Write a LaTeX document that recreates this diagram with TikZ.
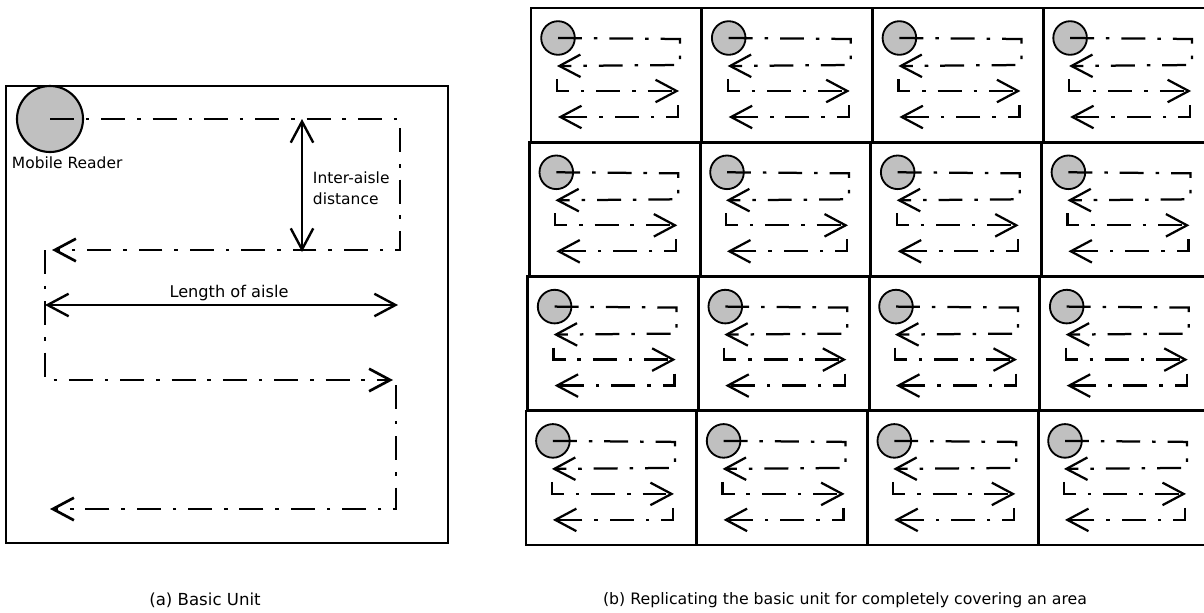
\documentclass[tikz,border=0pt]{standalone}
\usepackage{fontspec}
\setmainfont{DejaVu Sans}
\usetikzlibrary{arrows.meta}
\definecolor{readergray}{RGB}{192,192,192}

\begin{document}
\begin{tikzpicture}[
    x=0.025cm, y=-0.025cm,
    >={Straight Barb[length=15pt,width=16pt]},
    unit/.style={draw, line width=1.9pt},
    reader/.style={draw, circle, fill=readergray, line width=1.5pt, inner sep=0pt},
    route/.style={line width=1.9pt, dash pattern=on 17pt off 8.5pt on 2.5pt off 8.5pt},
    cellroute/.style={route, line width=1.6pt},
    dim/.style={<->, line width=1.7pt},
    every node/.style={font=\fontsize{11}{15}\selectfont},
]
    \useasboundingbox (0,0) rectangle (1204,612);
    \clip (0,0) rectangle (1204,612);

    % Basic unit
    \draw[unit] (6,86) rectangle (448,543);
    \node[reader, minimum size=1.65cm] (rd) at (50,119) {};
    \coordinate (a1) at (400,119);
    \coordinate (a2) at (400,250);
    \coordinate (a3) at (52,250);
    \coordinate (b0) at (45,250);
    \coordinate (b1) at (45,380);
    \coordinate (b2) at (393,380);
    \coordinate (c0) at (396,385);
    \coordinate (c1) at (396,509);
    \coordinate (c2) at (50,509);
    \draw[route, ->] (rd.center) -- (a1) -- (a2) -- (a3);
    \draw[route, ->] (b0) -- (b1) -- (b2);
    \draw[route, ->] (c0) -- (c1) -- (c2);

    % dimensions
    \coordinate (gaptop) at (302,119);
    \coordinate (gapbot) at (302,252);
    \coordinate (lenl) at (45,305);
    \coordinate (lenr) at (398,305);
    \draw[dim] (gaptop) -- (gapbot);
    \draw[dim] (lenl) -- (lenr);

    \node[anchor=west] (rdlabel) at (7,163) {Mobile Reader};
    \node[anchor=west, align=left] (gaplabel) at (308,188) {Inter-aisle\\distance};
    \node[font=\fontsize{11.5}{15}\selectfont] (lenlabel) at (229,293) {Length of aisle};

    % 4x4 copies of the unit
    \foreach \r in {0,...,3} {
        \foreach \c in {0,...,3} {
            \begin{scope}[shift={(531+170.7*\c-1.7*\r, 8+134.3*\r)}]
                \draw[unit] (0,0) rectangle (171,134);
                \node[reader, minimum size=0.84cm, line width=1.3pt] (r\r\c) at (27,30) {};
                \draw[cellroute, ->] (r\r\c.center) -- (149,31) -- (149,57) -- (26,58);
                \draw[cellroute, ->] (26,71) -- (26,83) -- (148,83);
                \draw[cellroute, ->] (147,97) -- (147,109) -- (27,109);
            \end{scope}
        }
    }

    % captions
    \node[font=\fontsize{11.8}{15}\selectfont] (capa) at (205,600) {(a) Basic Unit};
    \node[font=\fontsize{11.2}{15}\selectfont] (capb) at (845,600) {(b) Replicating the basic unit for completely covering an area};
\end{tikzpicture}
\end{document}
